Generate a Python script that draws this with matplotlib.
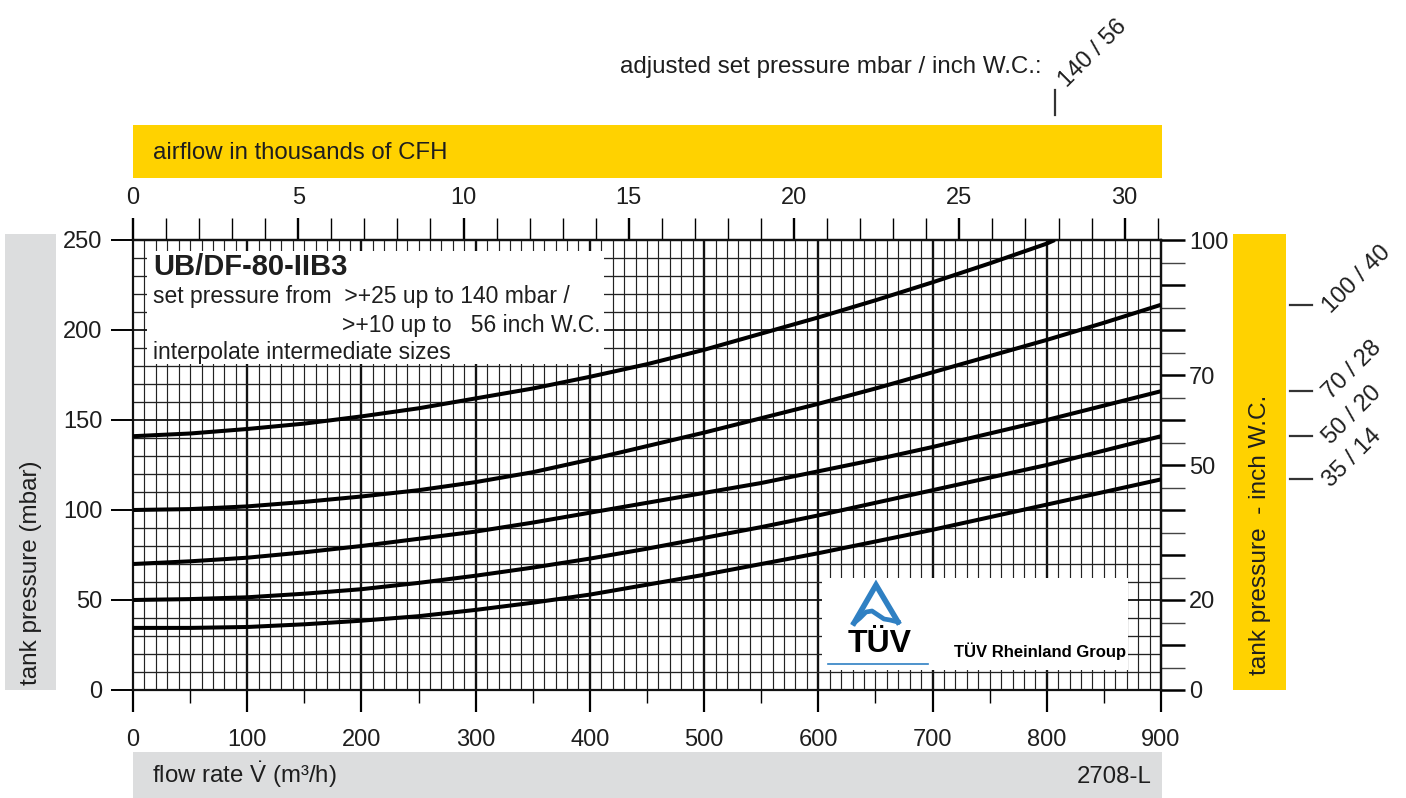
import numpy as np
import matplotlib.pyplot as plt
import matplotlib.transforms as mtrans
from matplotlib.patches import Rectangle
from matplotlib.lines import Line2D
from matplotlib.ticker import MultipleLocator, FixedLocator, FuncFormatter

plt.rcParams['font.family'] = ['Liberation Sans', 'DejaVu Sans']
plt.rcParams['mathtext.fontset'] = 'custom'
plt.rcParams['mathtext.rm'] = 'Liberation Sans'

# data: flow rate (m3/h) vs tank pressure (mbar)
flow = [0, 50, 100, 150, 200, 250, 300, 350, 400, 450, 500, 550, 600, 650, 700, 750, 800, 850, 900]
flow_140 = [0, 50, 100, 150, 200, 250, 300, 350, 400, 450, 500, 550, 600, 650, 700, 750, 800, 807]
p_140 = [141, 142.5, 145, 148, 152, 156.5, 162, 167.5, 174, 181, 189, 198, 207, 216.5, 226.5, 237, 248, 250]
p_100 = [100, 100.5, 102, 104.5, 107.5, 111, 115.5, 121, 128, 135.5, 143, 151, 159, 167.5, 176.5, 185.5, 194.5, 204, 214]
p_70 = [70, 71.5, 73.5, 76.5, 80, 84, 88, 93, 98.5, 104, 109.5, 115, 121.5, 128, 135, 142.5, 150, 158, 166]
p_50 = [50, 50.5, 51.5, 53.5, 56, 59.5, 63.5, 68, 73, 78.5, 84.5, 90.5, 97, 104, 111, 118, 125, 133, 141]
p_35 = [34.5, 34.5, 35, 36.5, 38.5, 41, 44.5, 48.5, 53, 58.5, 64, 70, 76, 82.5, 89, 96, 103, 110, 117]
side_labels = ["100 / 40", "70 / 28", "50 / 20", "35 / 14"]
top_label = "140 / 56"
right_labels = [0, 20, 50, 70, 100]
top_ticks = [0, 5, 10, 15, 20, 25, 30]

CFH_K = 31.1 / 900.0   # thousands of CFH per m3/h (as scaled on the sheet)
INCH = 100.0 / 250.0   # inch W.C. per mbar (as scaled on the sheet)

YELLOW = '#FFD200'
GRAY = '#DCDDDE'
TXT = '#1e1e1e'
FS = 17

W, H = 1406, 798
fig = plt.figure(figsize=(W / 100, H / 100), dpi=100)


def fx(x):
    return x / W


def fy(y):
    return 1 - y / H


def band(x0, y0, x1, y1, color):
    fig.add_artist(Rectangle((fx(x0), fy(y1)), fx(x1) - fx(x0), fy(y0) - fy(y1),
                             transform=fig.transFigure, color=color, lw=0, zorder=0))


ax = fig.add_axes([fx(133), fy(690), (1161 - 133) / W, (690 - 240) / H])
ax.set_xlim(0, 900)
ax.set_ylim(0, 250)

# grid paper
ax.vlines([v for v in range(10, 900, 10) if v % 100], 0, 250, color='#222222', lw=0.85, zorder=1)
ax.vlines(range(100, 900, 100), 0, 250, color='#111111', lw=1.7, zorder=1)
ax.hlines([v for v in range(10, 250, 10) if v % 50], 0, 900, color='#222222', lw=0.95, zorder=1)
ax.hlines(range(50, 250, 50), 0, 900, color='#111111', lw=1.3, zorder=1)

# curves
for xs, ys in [(flow_140, p_140), (flow, p_100), (flow, p_70), (flow, p_50), (flow, p_35)]:
    ax.plot(xs, ys, color='black', lw=2.9, zorder=5, solid_capstyle='butt')

# info box
ax.add_patch(Rectangle((12, 181), 400, 63, color='white', lw=0, zorder=3))
fig.text(fx(153), fy(275), "UB/DF-80-IIB3", fontsize=21, fontweight='bold', color=TXT, zorder=6)
fig.text(fx(153), fy(303), "set pressure from  >+25 up to 140 mbar /", fontsize=16.5, color=TXT, zorder=6)
fig.text(fx(342), fy(332), ">+10 up to   56 inch W.C.", fontsize=16.5, color=TXT, zorder=6)
fig.text(fx(153), fy(359), "interpolate intermediate sizes", fontsize=16.5, color=TXT, zorder=6)

# TUV box
ax.add_patch(Rectangle((603, 11), 268, 51, color='white', lw=0, zorder=3))
blue = '#2f80c3'
tri = [(fx(854), fy(623)), (fx(876), fy(585)), (fx(898), fy(622))]
fig.add_artist(Line2D([p[0] for p in tri], [p[1] for p in tri], transform=fig.transFigure,
                      color=blue, lw=4.0, solid_joinstyle='miter', zorder=7))
wave_x = [854, 860, 866, 872, 878, 884, 890, 898]
wave_y = [623, 618, 612, 611, 615, 619, 620, 622]
fig.add_artist(Line2D([fx(v) for v in wave_x], [fy(v) for v in wave_y], transform=fig.transFigure,
                      color=blue, lw=3.4, zorder=7))
fig.add_artist(Line2D([fx(828), fx(928)], [fy(664), fy(664)], transform=fig.transFigure,
                      color=blue, lw=1.2, zorder=7))
fig.text(fx(880), fy(644), "TÜV", fontsize=23, fontweight='heavy', color='black',
         ha='center', va='center', zorder=7)
fig.text(fx(1040), fy(651), "TÜV Rheinland Group", fontsize=12, fontweight='bold', color='black',
         ha='center', va='center', zorder=7)

# bottom / left axes
for s in ax.spines.values():
    s.set_linewidth(1.6)
    s.set_color('#111111')
ax.set_xticks(range(0, 901, 100))
ax.set_xticks(range(50, 900, 100), minor=True)
ax.set_yticks(range(0, 251, 50))
ax.tick_params(axis='x', which='major', length=16, width=1.6, pad=12, labelsize=FS, labelcolor=TXT)
ax.tick_params(axis='x', which='minor', length=9.5, width=1.0)
ax.tick_params(axis='y', which='major', length=16, width=1.4, pad=6, labelsize=FS, labelcolor=TXT)
ax.tick_params(axis='y', which='minor', length=0)

# top axis: thousands of CFH
secx = ax.secondary_xaxis('top', functions=(lambda v: v * CFH_K, lambda v: v / CFH_K))
secx.xaxis.set_major_locator(FixedLocator(top_ticks))
secx.xaxis.set_minor_locator(FixedLocator(range(0, 32)))
secx.tick_params(which='major', length=16, width=1.7, pad=6, labelsize=FS, labelcolor=TXT)
secx.tick_params(which='minor', length=16, width=1.0)
secx.spines['top'].set_linewidth(1.6)

# right axis: inch W.C.
secy = ax.secondary_yaxis('right', functions=(lambda v: v * INCH, lambda v: v / INCH))
secy.yaxis.set_major_locator(FixedLocator(np.arange(0, 101, 10)))
secy.yaxis.set_minor_locator(FixedLocator(np.arange(5, 100, 10)))
secy.yaxis.set_major_formatter(FuncFormatter(
    lambda v, p: str(int(round(v))) if int(round(v)) in right_labels else ''))
secy.tick_params(which='major', length=17, width=1.8, pad=3, labelsize=FS, labelcolor=TXT)
secy.tick_params(which='minor', length=17, width=1.0, color='#444444')
secy.spines['right'].set_linewidth(1.6)

# side bands and titles
band(133, 125, 1162, 178, YELLOW)
fig.text(fx(153), fy(159), "airflow in thousands of CFH", fontsize=17.3, color=TXT)
band(133, 752, 1162, 798, GRAY)
fig.text(fx(152), fy(783), r"flow rate $\dot{\mathrm{V}}$ (m³/h)", fontsize=17.3, color=TXT)
fig.text(fx(1152), fy(783), "2708-L", fontsize=17.3, color=TXT, ha='right')
band(5, 234, 56, 690, GRAY)
fig.text(fx(31), fy(685), "tank pressure (mbar)", fontsize=17.5, color=TXT, rotation=90,
         ha='center', va='bottom')
band(1233, 234, 1286, 690, YELLOW)
fig.text(fx(1260), fy(675), "tank pressure  - inch W.C.", fontsize=17.6, color=TXT, rotation=90,
         ha='center', va='bottom')

# set pressure markers at curve ends
fig.text(fx(620), fy(73), "adjusted set pressure mbar / inch W.C.:", fontsize=17.4, color=TXT)
tr_top = mtrans.blended_transform_factory(ax.transData, fig.transFigure)
fig.add_artist(Line2D([flow_140[-1], flow_140[-1]], [fy(90), fy(115)], transform=tr_top,
                      color='#333333', lw=1.6))
fig.text(flow_140[-1] + 7, fy(84), top_label, transform=tr_top, fontsize=17, color=TXT,
         rotation=45, rotation_mode='anchor', ha='left', va='center')

tr_side = mtrans.blended_transform_factory(fig.transFigure, ax.transData)
for lab, ys in zip(side_labels, [p_100, p_70, p_50, p_35]):
    fig.add_artist(Line2D([fx(1290), fx(1312)], [ys[-1], ys[-1]], transform=tr_side,
                          color='#333333', lw=1.6))
    fig.text(fx(1327), ys[-1] - 2.5, lab, transform=tr_side, fontsize=17, color=TXT,
             rotation=45, rotation_mode='anchor', ha='left', va='center')

fig.savefig("out.png", dpi=100)
